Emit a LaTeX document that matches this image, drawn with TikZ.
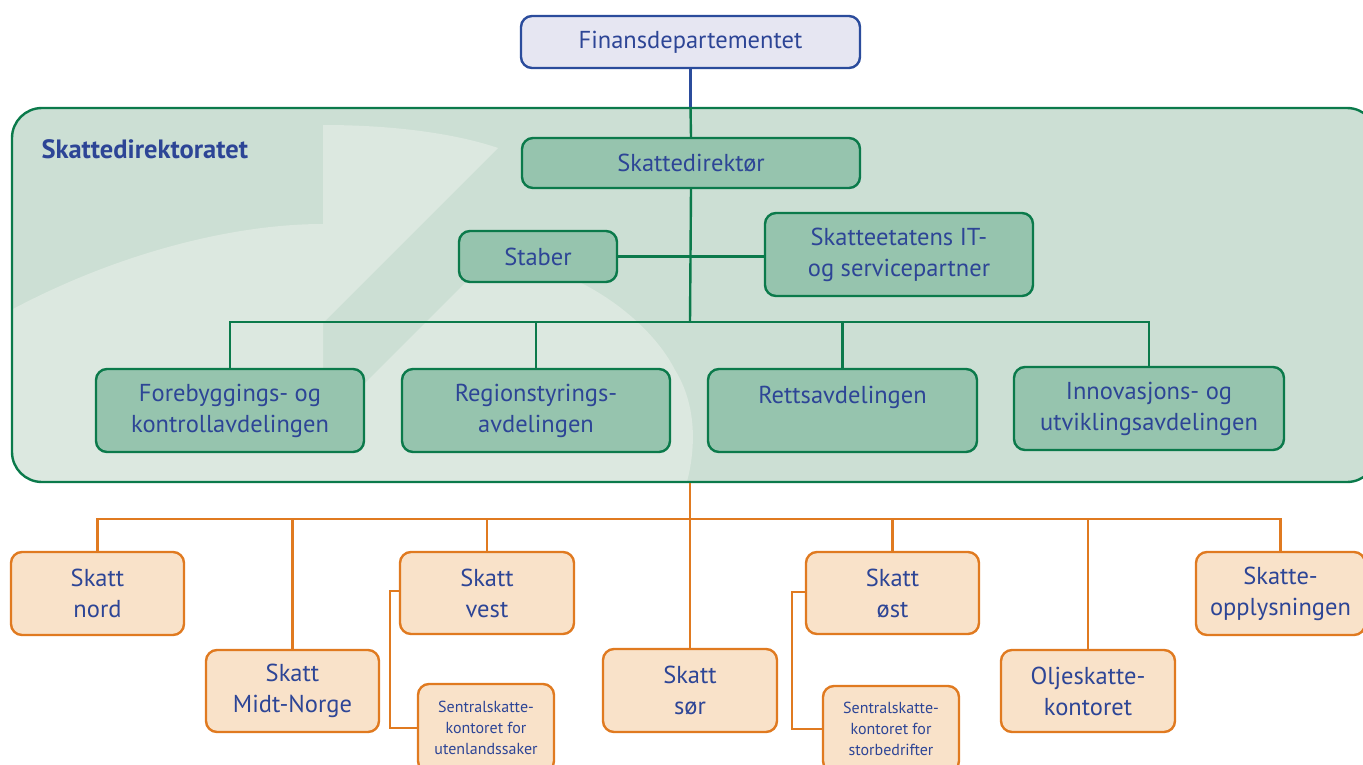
\documentclass[tikz,border=0pt]{standalone}
\usepackage{fontspec}
\setmainfont{PT Sans}
\definecolor{tblue}{HTML}{2D4596}
\definecolor{finfill}{HTML}{E6E6F2}
\definecolor{finline}{HTML}{2B4C9C}
\definecolor{gline}{HTML}{0B7A4B}
\definecolor{gnode}{HTML}{96C4AE}
\definecolor{gdark}{HTML}{CCDFD4}
\definecolor{glight}{HTML}{DCE8E0}
\definecolor{oline}{HTML}{E07A20}
\definecolor{onode}{HTML}{F9E2C9}
\begin{document}
\begin{tikzpicture}[x=1pt,y=-1pt,
  basebox/.style={rectangle, rounded corners=11pt, line width=2.4pt, text=tblue, align=center, inner sep=0pt, font=\fontsize{24.5}{31}\selectfont},
  fbox/.style={basebox, draw=finline, fill=finfill},
  gbox/.style={basebox, draw=gline, fill=gnode},
  obox/.style={basebox, draw=oline, fill=onode},
  sbox/.style={obox, font=\fontsize{16}{21}\selectfont},
  bl/.style={draw=finline, line width=2.2pt},
  gl/.style={draw=gline, line width=2.4pt},
  ol/.style={draw=oline, line width=2.4pt},
  sz/.style n args={2}{minimum width=#1pt, minimum height=#2pt}
]
\useasboundingbox (0,0) rectangle (1363,765);

% background of Skattedirektoratet
\begin{scope}
  \clip[rounded corners=30pt] (12,108) rectangle (1377,482);
  \fill[gdark] (0,100) rectangle (1400,490);
  \fill[glight] (0,316) .. controls (110,255) and (230,224) .. (323,224)
     -- (323,125) .. controls (400,125) and (460,135) .. (498,148)
     -- (323,323) -- (323,425) -- (490,258)
     .. controls (575,262) and (650,320) .. (675,370)
     .. controls (700,410) and (695,460) .. (683,495)
     -- (0,495) -- cycle;
\end{scope}
\node[draw=gline, line width=2.4pt, rounded corners=30pt, minimum width=1365pt, minimum height=374pt, inner sep=0pt] (sd) at (694.5,295) {};
\node[anchor=west, text=tblue, font=\fontsize{26.5}{30}\selectfont\bfseries] (sdlabel) at (38,149) {Skattedirektoratet};

% nodes
\node[fbox, sz={339}{52}] (fin) at (690.5,42) {Finansdepartementet};
\node[gbox, sz={338}{50}] (dir) at (691,163) {Skattedirektør};
\node[gbox, sz={158}{51}] (staber) at (538,256.5) {Staber};
\node[gbox, sz={268}{83}] (it) at (899,254.5) {Skatteetatens IT-\\og servicepartner};
\node[gbox, sz={268}{83}] (fore) at (230,410.5) {Forebyggings- og\\kontrollavdelingen};
\node[gbox, sz={268}{83}] (reg) at (536,410.5) {Regionstyrings-\\avdelingen};
\node[gbox, sz={269}{83}] (ret) at (842.5,410.5) {Rettsavdelingen\\\mbox{}};
\node[gbox, sz={270}{83}] (inn) at (1149,408.5) {Innovasjons- og\\utviklingsavdelingen};

\node[obox, sz={173}{83}] (nord) at (97.5,593.5) {Skatt\\nord};
\node[obox, sz={173}{82}] (midt) at (292.5,691) {Skatt\\Midt-Norge};
\node[obox, sz={174}{82}] (vest) at (487,593) {Skatt\\vest};
\node[obox, sz={174}{83}] (sor) at (690,690.5) {Skatt\\sør};
\node[obox, sz={173}{82}] (ost) at (892.5,593) {Skatt\\øst};
\node[obox, sz={174}{82}] (olje) at (1088,691) {Oljeskatte-\\kontoret};
\node[obox, sz={169}{83}] (opl) at (1280.5,593.5) {Skatte-\\opplysningen};
\node[sbox, sz={136}{88}] (sentU) at (486,728) {Sentralskatte-\\kontoret for\\utenlandssaker};
\node[sbox, sz={136}{86}] (sentS) at (891,729) {Sentralskatte-\\kontoret for\\storbedrifter};

\coordinate (gbus) at (690,322);
\coordinate (obus) at (690,519);

% connectors
\draw[bl] (fin.south) -- (fin.south |- sd.north);
\draw[gl] (fin.south |- sd.north) -- (dir.north);
\draw[gl] (dir.south) -- (gbus);
\draw[gl] (staber.east) -- (staber.east -| it.west);
\draw[gl] (fore.north) |- (gbus) -| (inn.north);
\draw[gl] (reg.north) -- (reg.north |- gbus);
\draw[gl] (ret.north) -- (ret.north |- gbus);

\draw[ol] (sor.north |- sd.south) -- (sor.north);
\draw[ol] (nord.north) |- (obus) -| (opl.north);
\draw[ol] (midt.north) -- (midt.north |- obus);
\draw[ol] (vest.north) -- (vest.north |- obus);
\draw[ol] (ost.north) -- (ost.north |- obus);
\draw[ol] (olje.north) -- (olje.north |- obus);
\draw[ol] ([yshift=2pt]vest.west) -- ++(-9,0) |- (sentU.west);
\draw[ol] ([yshift=1pt]ost.west) -- ++(-13,0) |- (sentS.west);
\end{tikzpicture}
\end{document}
